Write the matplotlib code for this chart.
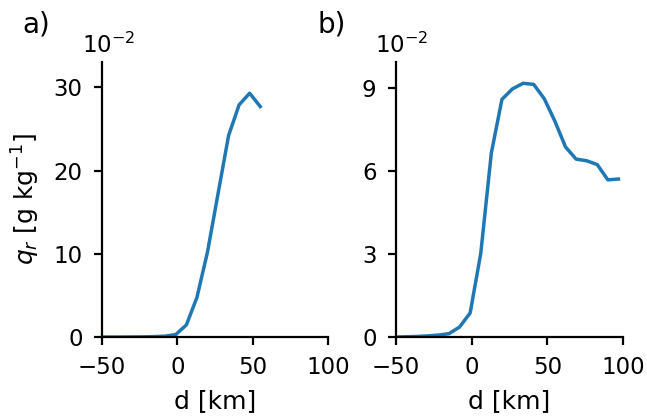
import numpy as np
import matplotlib.pyplot as plt
from matplotlib.ticker import FuncFormatter

# distance [km] and rain water mixing ratio [g/kg]
d_a = [-50, -43, -36, -29, -22, -15, -8, -1, 6, 13, 20, 27, 34, 41, 48, 55]
qr_a = [0.0, 0.0, 0.0, 0.0001, 0.0002, 0.0005, 0.001, 0.003, 0.0145, 0.0475,
        0.102, 0.172, 0.242, 0.279, 0.293, 0.277]

d_b = [-50, -43, -36, -29, -22, -15, -8, -1, 6, 13, 20, 27, 34, 41, 48, 55,
       62, 69, 76, 83, 90, 97]
qr_b = [0.0, 0.0001, 0.0002, 0.0004, 0.0007, 0.0012, 0.0036, 0.0087, 0.0302,
        0.0665, 0.0859, 0.0897, 0.0917, 0.0913, 0.0861, 0.0780, 0.0687, 0.0643,
        0.0637, 0.0623, 0.0568, 0.0571]

yticks_a = [0, 0.1, 0.2, 0.3]
yticks_b = [0, 0.03, 0.06, 0.09]
xticks = [-50, 0, 50, 100]

W, H = 647, 419
fig = plt.figure(figsize=(W / 100, H / 100), dpi=100)
ax1 = fig.add_axes([102 / W, 82 / H, 226 / W, 275 / H])
ax2 = fig.add_axes([396 / W, 82 / H, 227 / W, 275 / H])

fmt = FuncFormatter(lambda v, p: f"{v / 1e-2:.0f}")

for ax, d, q, yt, ytop in [(ax1, d_a, qr_a, yticks_a, 0.3305),
                           (ax2, d_b, qr_b, yticks_b, 0.0994)]:
    ax.plot(d, q, color="#1f77b4", lw=2.5)
    ax.set_xlim(-50, 100)
    ax.set_ylim(0, ytop)
    ax.set_xticks(xticks)
    ax.set_yticks(yt)
    ax.yaxis.set_major_formatter(fmt)
    ax.spines["top"].set_visible(False)
    ax.spines["right"].set_visible(False)
    for s in ["left", "bottom"]:
        ax.spines[s].set_linewidth(1.6)
    ax.tick_params(labelsize=16.5, width=1.6, length=6, pad=8)
    ax.set_xlabel("d [km]", fontsize=18, labelpad=7)

ax1.set_ylabel(r"$q_r$ [g kg$^{-1}$]", fontsize=18, labelpad=8)

# offset labels and panel letters
off = r"$\mathdefault{10^{-2}}$"
fig.text(82 / W, 1 - 53 / H, off, fontsize=16.5, ha="left", va="baseline")
fig.text(375 / W, 1 - 53 / H, off, fontsize=16.5, ha="left", va="baseline")
fig.text(22 / W, 1 - 33 / H, "a)", fontsize=20, ha="left", va="baseline")
fig.text(317 / W, 1 - 33 / H, "b)", fontsize=20, ha="left", va="baseline")

fig.savefig("out.png", dpi=100)
